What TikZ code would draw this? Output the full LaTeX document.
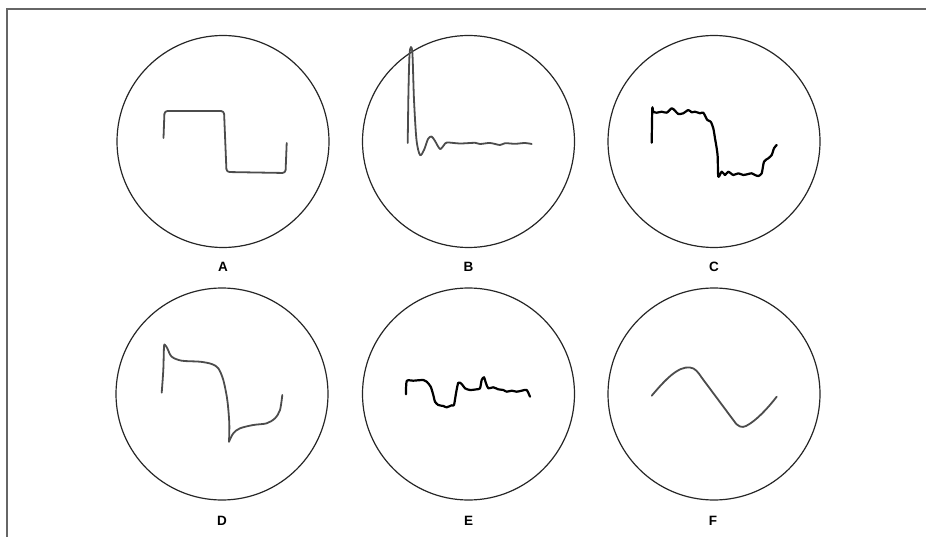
\documentclass[tikz,border=0pt]{standalone}
\usepackage{fontspec}
\setmainfont{Liberation Sans}
\begin{document}
\begin{tikzpicture}[x=1pt,y=-1pt,
  screen/.style={line width=1.2pt, draw=black!85},
  trace/.style={line width=1.8pt, draw=black!70, line cap=round, line join=round},
  tracedark/.style={line width=2.2pt, draw=black, line cap=round, line join=round},
  tag/.style={font=\fontsize{13.5}{13.5}\selectfont\bfseries, inner sep=0pt}]
\useasboundingbox (0,0) rectangle (926,537);
\draw[line width=1.4pt, draw=black!60] (7,537) -- (7,9) -- (926,9);

% screens
\draw[screen] (223,141.5) circle (106pt);
\draw[screen] (468.5,141.5) circle (106pt);
\draw[screen] (714,141.5) circle (106pt);
\draw[screen] (222,394) circle (106pt);
\draw[screen] (468.5,394) circle (106pt);
\draw[screen] (714,394) circle (106pt);

% A: square wave
\draw[trace, rounded corners=3pt] (163.5,138) -- (164.5,111) -- (224,111) -- (226.5,172) -- (285.5,173) -- (286.7,143);

% B: spike with ringing
\draw[trace] plot[smooth, tension=0.5] coordinates {(407.7,143) (408.5,90) (409.5,55) (411,47) (412.5,55) (414,100) (416.5,140) (420,155) (424,150) (428,139) (431.5,136.5) (435,141) (440,149) (444,145) (447,142.5) (460,143.5) (475,142.8) (480,144) (490,143) (500,145) (505,143.2) (515,143.8) (525,143) (531.7,144)};

% C: noisy square wave
\draw[tracedark] plot[smooth, tension=0.4] coordinates {(651.7,142.7) (652.3,108.3) (653.3,111.7) (656.7,112.7) (661.7,111.7) (666.7,112.7) (671.7,108.3) (675,110.7) (678.3,114) (683.3,113.3) (688.3,110) (691.7,112.3) (695,111.7) (700,113.3) (703.3,112.7) (707.3,120) (710.7,121.7) (713.3,128.3) (715,138.3) (716.7,148.3) (717.7,156.7) (718.3,176.7) (721.7,171.7) (725,175) (728.3,171.7) (733.3,175) (738.3,173.3) (743.3,175) (748.3,174) (751.7,173.3) (755,175) (758.3,176) (761.7,173.3) (764,161.7) (768.3,158.3) (771.7,155) (774,148.3) (776.7,145)};

% D: tilted square wave
\draw[trace] plot[smooth, tension=0.5] coordinates {(161.7,392.7) (163.3,370) (164,346.7) (165,345) (167.3,348.3) (171.7,356.7) (181.7,360.7) (200,361.7) (211.7,364) (218.3,368.3) (223.3,380) (227.3,400) (229.3,423.3) (229,441.7)};
\draw[trace] plot[smooth, tension=0.5] coordinates {(229,441.7) (233.3,433.3) (240,428.3) (253.3,425) (266.7,423.3) (275,418.3) (280,410) (282.3,395)};

% E: irregular trace
\draw[tracedark] plot[smooth, tension=0.4] coordinates {(406,394.3) (406.7,381) (413.3,380.7) (423.3,380) (426.7,381.7) (430.7,386.7) (433.3,395) (435,401.7) (438.3,405) (443.3,406) (446.7,407.3) (451.7,405.3) (454,405) (456,393.3) (458.3,382.7) (461.7,384) (465,388.3) (470,390) (476.7,389.3) (480,388.3) (481.7,380) (484,377.3) (486,383.3) (488.3,388.3) (493.3,387.3) (498.3,389.3) (503.3,390) (506.7,391.7) (511.7,390.7) (516.7,391.7) (521.7,390.7) (526.7,390) (530,396.7)};

% F: triangle-like sine
\draw[trace] (651.7,395.7) .. controls (665,380) and (678,366) .. (690,367.5)
  .. controls (695,368) and (698,372) .. (702,378) -- (734,421)
  .. controls (738,427) and (742,428) .. (746,426)
  .. controls (756,421) and (768,408) .. (776.7,396.7);

% labels
\node[tag] (labA) at (223,267) {A};
\node[tag] (labB) at (468.5,267) {B};
\node[tag] (labC) at (714,267) {C};
\node[tag] (labD) at (222,521) {D};
\node[tag] (labE) at (468.5,521) {E};
\node[tag] (labF) at (713,521) {F};
\end{tikzpicture}
\end{document}
